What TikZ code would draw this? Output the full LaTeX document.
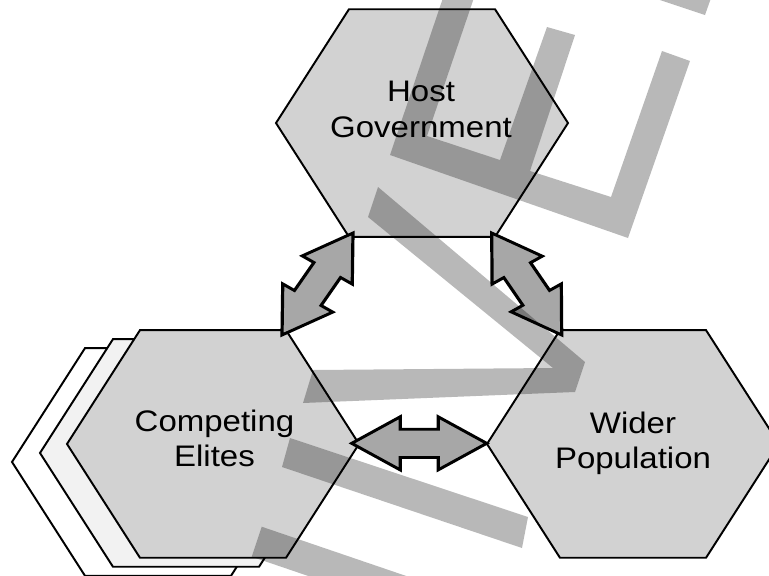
\documentclass[tikz,border=0pt]{standalone}
\usepackage{fontspec}
\newfontfamily\lblfont{Liberation Sans}
\usetikzlibrary{calc}
\definecolor{hexfill}{gray}{0.824}
\definecolor{shadefill}{gray}{0.95}
\definecolor{arrfill}{gray}{0.655}
\tikzset{
  hexline/.style={draw=black, line width=2pt, line join=miter, fill=hexfill},
  dblarrow/.style={draw=black, line width=3.2pt, line join=miter, miter limit=10, fill=arrfill},
  lbl/.style={font=\lblfont\fontsize{33}{40}\selectfont, anchor=base, inner sep=0pt, text=black},
  band/.style={fill=black, fill opacity=0.28, draw=none},
  pics/hexshape/.style={code={
    \draw[hexline,#1] (-146,0) -- (-73,-126.5) -- (73,-126.5) -- (146,0)
      -- (73,126.5) -- (-73,126.5) -- cycle;}},
  pics/hexshape/.default={}
}
\newcommand\dblarr[2]{%
  \draw[dblarrow] (#1)
    -- ($(#1)!48.5pt!(#2)!29.5pt!90:(#2)$)
    -- ($(#1)!48.5pt!(#2)!15.7pt!90:(#2)$)
    -- ($(#2)!48.5pt!(#1)!15.7pt!-90:(#1)$)
    -- ($(#2)!48.5pt!(#1)!29.5pt!-90:(#1)$)
    -- (#2)
    -- ($(#2)!48.5pt!(#1)!29.5pt!90:(#1)$)
    -- ($(#2)!48.5pt!(#1)!15.7pt!90:(#1)$)
    -- ($(#1)!48.5pt!(#2)!15.7pt!-90:(#2)$)
    -- ($(#1)!48.5pt!(#2)!29.5pt!-90:(#2)$)
    -- cycle;}
\begin{document}
\begin{tikzpicture}[x=1pt,y=-1pt]
  \fill[white] (0,0) rectangle (769,576);
  \useasboundingbox (0,0) rectangle (769,576);
  \clip (0,0) rectangle (769,576);
  \begin{scope}[transform canvas={yscale=0.9}]
    % centres of the hexagons (drawn unsquished, then squeezed)
    \coordinate (host)  at (422,136.7);
    \coordinate (elite) at (213,493.3);
    \coordinate (wider) at (633,493.3);
    % stacked copies behind Competing Elites
    \pic at ($(elite)+(-55,20)$) {hexshape={fill=white}};
    \pic at ($(elite)+(-27,10)$) {hexshape={fill=shadefill}};
    \pic at (elite) {hexshape};
    \pic at (host)  {hexshape};
    \pic at (wider) {hexshape};
    % arrow ends
    \coordinate (ltA) at (353,258.9);
    \coordinate (ltB) at (282,372.2);
    \coordinate (rtA) at (491.7,258.9);
    \coordinate (rtB) at (561.7,372.2);
    \coordinate (hzA) at (351.7,492.6);
    \coordinate (hzB) at (486.7,492.6);
    \dblarr{ltA}{ltB}
    \dblarr{rtA}{rtB}
    \dblarr{hzA}{hzB}
    % labels
    \node[lbl] (hostA)  at (421,113.3) {Host};
    \node[lbl] (hostB)  at (421,153.3) {Government};
    \node[lbl] (eliteA) at (214.5,479.7) {Competing};
    \node[lbl] (eliteB) at (214.5,518.5) {Elites};
    \node[lbl] (widerA) at (633,481.4) {Wider};
    \node[lbl] (widerB) at (633,520.3) {Population};
  \end{scope}
  % translucent watermark strokes
  \fill[band] (449,-20) -- (390,155) -- (628,238) -- (690,61) -- (662,51)
    -- (611,197) -- (530,171) -- (575,35) -- (547,27) -- (500,160)
    -- (427,136) -- (480,-20) -- cycle;
  \fill[band] (654,-2) -- (705,15) -- (711,-2) -- cycle;
  \fill[band] (378,187) -- (585,362) -- (575,392) -- (303,403) -- (313,370)
    -- (553,368) -- (368,217) -- cycle;
  \fill[band] (290,438) -- (528,517) -- (522,548) -- (282,467) -- cycle;
  \fill[band] (261.7,526.7) -- (418,580) -- (320,580) -- (251.7,556.7) -- cycle;
\end{tikzpicture}
\end{document}
